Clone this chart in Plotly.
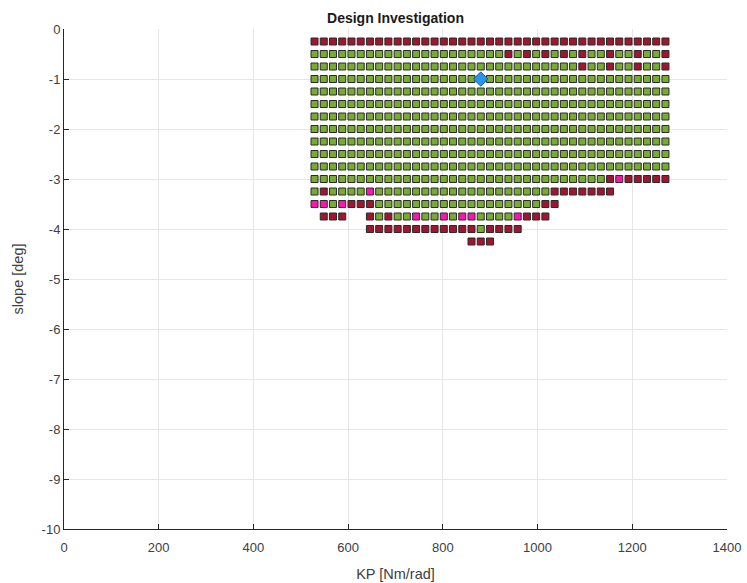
import plotly.graph_objects as go

# Grid of KP values (columns) and slope values (rows)
kp_values = [529, 548.5, 568, 587.5, 607, 626.5, 646, 665.5, 685, 704.5,
             724, 743.5, 763, 782.5, 802, 821.5, 841, 860.5, 880, 899.5,
             919, 938.5, 958, 977.5, 997, 1016.5, 1036, 1055.5, 1075, 1094.5,
             1114, 1133.5, 1153, 1172.5, 1192, 1211.5, 1231, 1250.5, 1270]
slope_values = [-0.25, -0.5, -0.75, -1.0, -1.25, -1.5, -1.75, -2.0, -2.25,
                -2.5, -2.75, -3.0, -3.25, -3.5, -3.75, -4.0, -4.25]

# status per row: g = pass, r = fail, p = marginal, . = not evaluated
status_rows = [
    "rrrrrrrrrrrrrrrrrrrrrrrrrrrrrrrrrrrrrrr",
    "gggggggggggggggggggggrgrgrgrgrggrggrggr",
    "gggggggggggggggggggggggggggggrggrggrggr",
    "ggggggggggggggggggggggggggggggggggggggg",
    "ggggggggggggggggggggggggggggggggggggggg",
    "ggggggggggggggggggggggggggggggggggggggg",
    "ggggggggggggggggggggggggggggggggggggggg",
    "ggggggggggggggggggggggggggggggggggggggg",
    "ggggggggggggggggggggggggggggggggggggggg",
    "ggggggggggggggggggggggggggggggggggggggg",
    "ggggggggggggggggggggggggggggggggggggggg",
    "ggggggggggggggggggggggggggggggggrprrrrr",
    "grggggpgggggggggggggggggggrrrrrrr......",
    "ppgprrrggggggggggggggggggrr............",
    ".rrr..rgrggpggpgppggggprrr.............",
    "......rrrrrrrrrrrrgrrrr................",
    ".................rrr...................",
]

nominal_kp = [880]
nominal_slope = [-1.0]

x_ticks = [0, 200, 400, 600, 800, 1000, 1200, 1400]
y_ticks = [0, -1, -2, -3, -4, -5, -6, -7, -8, -9, -10]
y_tick_labels = ["0", "-1", "-2", "-3", "-4", "-5", "-6", "-7", "-8", "-9", "-10"]

colors = {"g": "#77AC30", "r": "#A2142F", "p": "#FF14B0"}

fig = go.Figure()
for key in ["g", "r", "p"]:
    xs, ys = [], []
    for ri, row in enumerate(status_rows):
        for ci, ch in enumerate(row):
            if ch == key:
                xs.append(kp_values[ci])
                ys.append(slope_values[ri])
    fig.add_trace(go.Scatter(
        x=xs, y=ys, mode="markers",
        marker=dict(symbol="square", size=7, color=colors[key],
                    line=dict(color="#2a2a2a", width=1)),
        showlegend=False, hoverinfo="x+y"))

fig.add_trace(go.Scatter(
    x=nominal_kp, y=nominal_slope, mode="markers",
    marker=dict(symbol="diamond", size=11, color="#2B95EA",
                line=dict(color="#10609F", width=1)),
    showlegend=False))

font_family = "Liberation Sans, Arial, sans-serif"
fig.update_layout(
    width=747, height=583,
    margin=dict(l=64, r=20, t=29, b=54, autoexpand=False),
    paper_bgcolor="white", plot_bgcolor="white",
    font=dict(family=font_family, color="#404040", size=13),
    title=dict(text="<b>Design Investigation</b>", x=0.5, xref="paper", xanchor="center",
               y=1 - 18 / 583, yanchor="middle",
               font=dict(size=14, color="#1a1a1a", family=font_family)),
    showlegend=False,
)
fig.update_xaxes(
    range=[0, 1400], tickvals=x_ticks, ticktext=[str(v) for v in x_ticks],
    showgrid=True, gridcolor="#E6E6E6", gridwidth=1,
    showline=True, linecolor="#262626", linewidth=1,
    ticks="inside", ticklen=5, tickcolor="#262626",
    zeroline=False, mirror=False, automargin=False,
    ticklabelstandoff=6,
    title=dict(text="KP [Nm/rad]", font=dict(size=14.5, color="#404040"), standoff=15),
    tickfont=dict(size=13, color="#404040"),
)
fig.update_yaxes(
    range=[-10, 0], tickvals=y_ticks, ticktext=y_tick_labels,
    showgrid=True, gridcolor="#E6E6E6", gridwidth=1,
    showline=True, linecolor="#262626", linewidth=1,
    ticks="inside", ticklen=5, tickcolor="#262626",
    zeroline=False, mirror=False, automargin=False,
    title=dict(text="slope [deg]", font=dict(size=14.5, color="#404040"), standoff=14),
    tickfont=dict(size=13, color="#404040"),
)

fig.write_html("out.html")
